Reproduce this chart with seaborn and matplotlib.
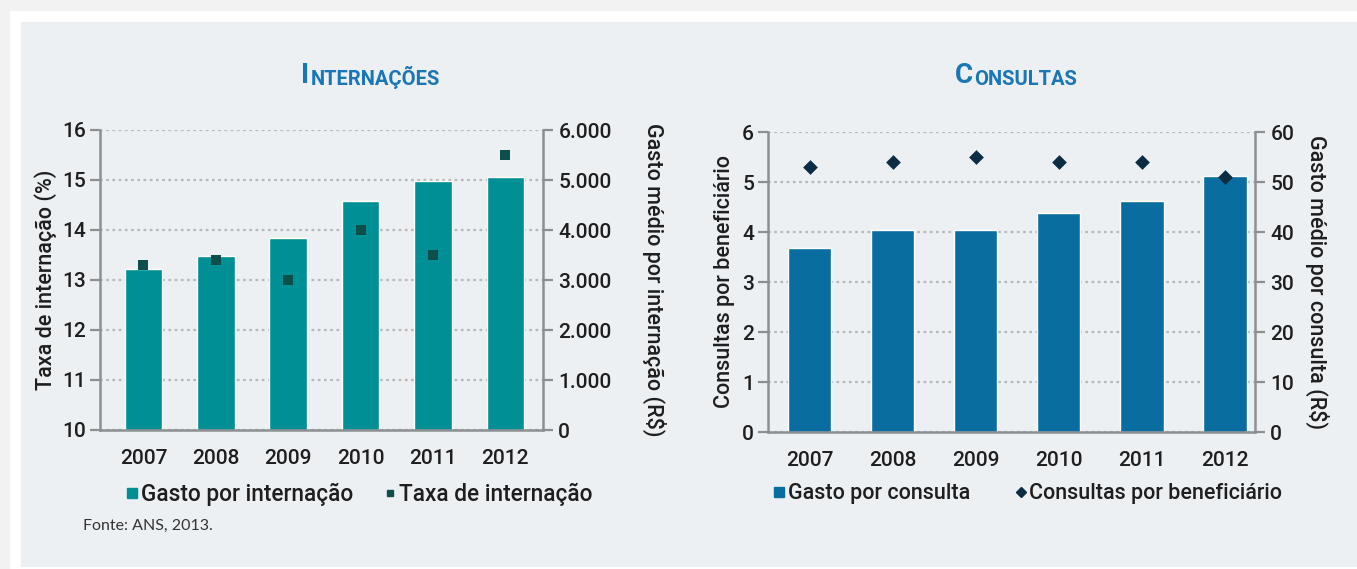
import matplotlib
matplotlib.use("Agg")
import matplotlib.pyplot as plt
from matplotlib.patches import Rectangle
from matplotlib.lines import Line2D
from matplotlib.ticker import FuncFormatter, MultipleLocator
import seaborn as sns

# ---------------- data ----------------
years = ["2007", "2008", "2009", "2010", "2011", "2012"]
gasto_internacao = [3220, 3490, 3850, 4585, 4990, 5070]      # R$ (right axis)
taxa_internacao = [13.3, 13.4, 13.0, 14.0, 13.5, 15.5]        # % (left axis)
gasto_consulta = [36.9, 40.4, 40.4, 43.8, 46.2, 51.2]         # R$ (right axis)
consultas_benef = [5.3, 5.4, 5.5, 5.4, 5.4, 5.1]              # (left axis)

titles = ["Internações", "Consultas"]
legend_left = ["Gasto por internação", "Taxa de internação"]
legend_right = ["Gasto por consulta", "Consultas por beneficiário"]
source = "Fonte: ANS, 2013."

# ---------------- style ----------------
sns.set_theme(style="white")
FONT = ["Roboto", "DejaVu Sans"]
plt.rcParams["font.family"] = FONT
plt.rcParams["font.weight"] = "medium"

TEAL = "#008f94"
DARK_TEAL = "#0f4f4b"
BLUE = "#0a6d9f"
NAVY = "#0b2c42"
TITLE_BLUE = "#1a76b5"
TXT = "#1e1e1e"
GRID = "#b6b8ba"
SPINE = "#8c8f92"

W, H = 1357, 569
fig = plt.figure(figsize=(W / 100, H / 100), dpi=100)
fig.patch.set_facecolor("#f2f2f2")


def fx(px):
    return px / W


def fy(py):
    return 1 - py / H


# white card and inner panel
fig.add_artist(Rectangle((fx(10), 0), 1, fy(11), transform=fig.transFigure,
                         facecolor="white", edgecolor="none", zorder=0))
fig.add_artist(Rectangle((fx(21), fy(567)), 1, fy(22) - fy(567), transform=fig.transFigure,
                         facecolor="#edf0f3", edgecolor="none", zorder=0))


def make_chart(rect, bar_vals, pt_vals, bar_color, pt_color, marker, msize,
               bar_lim, bar_step, pt_lim, pt_step, xlim, left_label, right_label,
               bar_fmt, fs, lfs, lpad_left, lpad_right):
    ax = fig.add_axes(rect)
    ax2 = ax.twinx()
    sns.barplot(x=years, y=bar_vals, ax=ax, color=bar_color, saturation=1,
                width=0.52, zorder=2)
    sns.stripplot(x=years, y=pt_vals, ax=ax2, jitter=False, marker=marker,
                  size=msize, color=pt_color, linewidth=0, zorder=5)
    ax.set_facecolor("none")
    ax.set_ylim(*bar_lim)
    ax.yaxis.set_major_locator(MultipleLocator(bar_step))
    ax.yaxis.set_major_formatter(FuncFormatter(bar_fmt))
    ax2.set_ylim(*pt_lim)
    ax2.yaxis.set_major_locator(MultipleLocator(pt_step))
    ax2.yaxis.set_major_formatter(FuncFormatter(lambda v, p: f"{v:.0f}"))
    ax.set_xlim(*xlim)

    ax.yaxis.tick_right()
    ax.yaxis.set_label_position("right")
    ax2.yaxis.tick_left()
    ax2.yaxis.set_label_position("left")

    ax.yaxis.grid(True, linestyle=(0, (1.2, 1.6)), color=GRID, linewidth=1.6)
    ax.xaxis.grid(False)
    ax.set_axisbelow(True)

    for s in ["left", "right", "bottom"]:
        ax.spines[s].set_visible(True)
        ax.spines[s].set_color(SPINE)
        ax.spines[s].set_linewidth(1.8)
    ax.spines["top"].set_visible(False)
    for s in ax2.spines.values():
        s.set_visible(False)

    ax.tick_params(axis="y", right=True, left=False, direction="out", length=7,
                   width=1.6, color=SPINE, labelsize=fs, labelcolor=TXT, pad=4)
    ax2.tick_params(axis="y", left=True, right=False, direction="out", length=7,
                    width=1.6, color=SPINE, labelsize=fs, labelcolor=TXT, pad=3)
    ax.tick_params(axis="x", bottom=False, length=0, labelsize=fs,
                   labelcolor=TXT, pad=14)
    ax.set_xlabel("")
    ax2.set_xlabel("")
    ax2.set_ylabel(left_label, fontsize=lfs, color=TXT, fontweight="medium",
                   labelpad=lpad_left)
    ax.set_ylabel(right_label, fontsize=lfs, color=TXT, rotation=270,
                  fontweight="medium", va="bottom", labelpad=lpad_right)
    return ax, ax2


thousands = lambda v, p: f"{v:,.0f}".replace(",", ".")
make_chart([fx(100), fy(430), fx(543) - fx(100), fy(130) - fy(430)],
           gasto_internacao, taxa_internacao, TEAL, DARK_TEAL, "s", 7.5,
           (0, 6000), 1000, (10, 16), 1, (-0.6, 5.52),
           "Taxa de internação (%)", "Gasto médio por internação (R$)", thousands,
           15, 15.5, 4, 22)

make_chart([fx(768), fy(432), fx(1255) - fx(768), fy(132) - fy(432)],
           gasto_consulta, consultas_benef, BLUE, NAVY, "D", 7.5,
           (0, 60), 10, (0, 6), 1, (-0.5, 5.36),
           "Consultas por beneficiário", "Gasto médio por consulta (R$)",
           lambda v, p: f"{v:.0f}", 15, 15.5, 5, 8)


# ---------------- titles (small caps) ----------------
def small_caps_title(x_px, y_px, text):
    t1 = fig.text(fx(x_px), fy(y_px), text[0].upper(), fontsize=20, fontweight="bold",
                  color=TITLE_BLUE, ha="left", va="baseline")
    fig.canvas.draw()
    plt.annotate(text[1:].upper(), xy=(1, 0), xycoords=t1, xytext=(1, 0),
                 textcoords="offset points", fontsize=14.5, fontweight="bold",
                 color=TITLE_BLUE, ha="left", va="bottom")


small_caps_title(301, 83, titles[0])
small_caps_title(955, 83, titles[1])

# ---------------- legends ----------------
h_left = [Line2D([], [], marker="s", ls="", color=TEAL, markersize=7),
          Line2D([], [], marker="s", ls="", color=DARK_TEAL, markersize=4.5)]
h_right = [Line2D([], [], marker="s", ls="", color=BLUE, markersize=7),
           Line2D([], [], marker="D", ls="", color=NAVY, markersize=5.5)]
for handles, labels, x0, fs, cs in [(h_left, legend_left, 114, 16.3, 1.3),
                                    (h_right, legend_right, 762, 15.5, 2.05)]:
    fig.legend(handles, labels, loc="center left", bbox_to_anchor=(fx(x0), fy(494)),
               ncol=2, frameon=False, fontsize=fs, handlelength=0.6,
               handletextpad=0.1, columnspacing=cs, borderpad=0,
               labelcolor=TXT)

fig.text(fx(83), fy(526), source, fontsize=11.5, color="#333333",
         family=["Lato", "DejaVu Sans"], fontweight="normal", ha="left", va="center")

fig.savefig("out.png", dpi=100, facecolor=fig.get_facecolor())
